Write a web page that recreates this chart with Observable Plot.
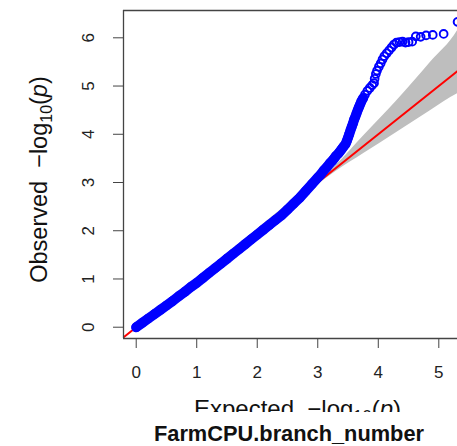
<!DOCTYPE html>
<html><head><meta charset="utf-8">
<script src="https://cdn.jsdelivr.net/npm/d3@7"></script>
<script src="https://cdn.jsdelivr.net/npm/@observablehq/plot@0.6"></script>
<style>
body{margin:0;background:#fff;}
#wrap{position:relative;width:457px;height:446px;overflow:hidden;background:#fff;font-family:"Liberation Sans",Arial,Helvetica,sans-serif;}
#title{position:absolute;left:289px;top:423px;transform:translateX(-50%);font-weight:bold;font-size:21.8px;line-height:21px;white-space:nowrap;color:#111;}
</style></head><body>
<div id="wrap"><div id="chart"></div><div id="title"></div></div>
<script>
// Expected vs observed -log10(p)
const expected = [0.00,0.10,0.20,0.30,0.40,0.50,0.60,0.70,0.80,0.90,1.00,1.10,1.20,1.30,1.40,1.50,1.60,1.70,1.80,1.90,2.00,2.10,2.20,2.30,2.40,2.50,2.60,2.70,2.80,2.90,3.00,
  3.05,3.10,3.15,3.20,3.24,3.27,3.30,3.34,3.37,3.40,3.43,3.46,3.48,3.50,3.52,3.54,3.56,3.58,3.60,3.62,3.64,3.66,3.68,3.70,3.72,3.75,3.78,3.82,3.86,3.90,3.93,3.94,3.96,3.98,4.01,4.04,4.07,4.10,4.14,4.18,4.22,4.26,4.30,4.35,4.40,4.45,4.50,4.56,4.62,4.70,4.79,4.90,5.08,5.31];
const observed = [0.00,0.09,0.18,0.27,0.36,0.45,0.54,0.64,0.73,0.83,0.92,1.02,1.12,1.22,1.32,1.42,1.52,1.62,1.72,1.82,1.92,2.02,2.12,2.22,2.32,2.44,2.56,2.68,2.82,2.96,3.10,
  3.17,3.25,3.32,3.40,3.45,3.50,3.55,3.60,3.65,3.70,3.75,3.80,3.86,3.93,4.00,4.08,4.15,4.22,4.30,4.36,4.43,4.50,4.56,4.62,4.68,4.75,4.82,4.90,4.96,5.02,5.06,5.15,5.25,5.32,5.40,5.47,5.55,5.62,5.68,5.74,5.80,5.86,5.90,5.91,5.92,5.90,5.91,5.92,6.03,6.02,6.05,6.06,6.08,6.33];
// confidence band
const ciExpected = [0, 1, 2, 3, 3.3, 3.76, 4.31, 4.86, 5.31, 5.5];
const ciLower    = [0, 0.985, 1.97, 2.955, 3.23, 3.60, 4.04, 4.49, 4.84, 4.95];
const ciUpper    = [0, 1.015, 2.03, 3.06, 3.36, 3.97, 4.70, 5.49, 6.15, 6.6];
const refLine = [-1, 8];
const xTicks = [0, 1, 2, 3, 4, 5];
const yTicks = [0, 1, 2, 3, 4, 5, 6];
const xDomain = [-0.21, 5.309];
const yDomain = [-0.234, 6.566];
const chartTitle = "FarmCPU.branch_number";

const pts = expected.map((e, i) => ({e, o: observed[i]}));
const dense = pts.filter(d => d.e <= 3.75);
const ci = ciExpected.map((e, i) => ({e, lo: ciLower[i], hi: ciUpper[i]}));

const font = '"Liberation Sans", Arial, Helvetica, sans-serif';
const svg = Plot.plot({
  width: 457, height: 412,
  marginLeft: 123, marginRight: 0, marginTop: 10, marginBottom: 74,
  style: {fontFamily: font, background: "white", overflow: "hidden", color: "#222"},
  x: {domain: xDomain, label: null},
  y: {domain: yDomain, label: null},
  marks: [
    Plot.areaY(ci, {x: "e", y1: "lo", y2: "hi", fill: "#bebebe", curve: "monotone-x", clip: true}),
    Plot.line(refLine, {x: d => d, y: d => d, stroke: "#ff0000", strokeWidth: 2, clip: true}),
    Plot.line(dense, {x: "e", y: "o", stroke: "#0000ff", strokeWidth: 10, strokeLinecap: "round", strokeLinejoin: "round", clip: true}),
    Plot.dot(pts, {x: "e", y: "o", r: 3.9, stroke: "#0000ff", strokeWidth: 1.9, fill: "none", clip: true}),
    Plot.ruleX([xDomain[0]], {stroke: "#444", strokeWidth: 1.3}),
    Plot.ruleY([yDomain[0], yDomain[1]], {stroke: "#444", strokeWidth: 1.3}),
    Plot.axisX({ticks: xTicks, tickFormat: d => String(d), tickSize: 10, tickPadding: 17, fontSize: 17, stroke: "#444", fill: "#222", label: null}),
    Plot.axisY({ticks: yTicks, tickSize: 10, stroke: "#444", fill: "none", label: null}),
    Plot.text(yTicks, {y: d => d, text: d => String(d), frameAnchor: "left", dx: -35, rotate: -90, textAnchor: "middle", lineAnchor: "middle", fontSize: 17, fill: "#222"})
  ]
});
document.getElementById("chart").appendChild(svg);

const s = d3.select(svg);
// y axis title
const yl = s.append("text")
  .attr("transform", "translate(47,179.5) rotate(-90)")
  .attr("text-anchor", "middle")
  .attr("font-size", 23.5).attr("fill", "#111").attr("font-family", font);
yl.append("tspan").text("Observed\u00A0\u00A0\u2212log");
yl.append("tspan").attr("font-size", 16).attr("dy", 5).text("10");
yl.append("tspan").attr("dy", -5).text("(");
yl.append("tspan").attr("font-style", "italic").text("p");
yl.append("tspan").text(")");
// x axis title
const xl = s.append("text")
  .attr("transform", "translate(297.5,416.5)")
  .attr("text-anchor", "middle")
  .attr("font-size", 24).attr("fill", "#111").attr("font-family", font);
xl.append("tspan").text("Expected\u00A0\u00A0\u2212log");
xl.append("tspan").attr("font-size", 16.5).attr("dy", 5).text("10");
xl.append("tspan").attr("dy", -5).text("(");
xl.append("tspan").attr("font-style", "italic").text("p");
xl.append("tspan").text(")");

document.getElementById("title").textContent = chartTitle;
</script>
</body></html>
